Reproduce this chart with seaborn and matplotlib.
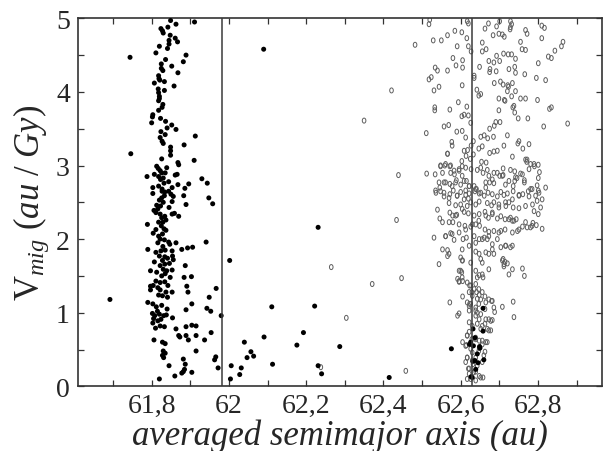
import numpy as np
import matplotlib
matplotlib.use("Agg")
import matplotlib.pyplot as plt
from matplotlib.path import Path
from matplotlib.ticker import MultipleLocator, FuncFormatter
import seaborn as sns

# Particles trapped near the inner resonance (filled) -- (a, V_mig)
filled_a = [
    61.849, 61.863, 61.911, 61.842, 61.824, 61.828, 61.830, 61.848, 61.861, 61.867,
    61.845, 61.845, 61.841, 61.820, 61.811, 61.744, 61.889, 61.882, 61.836, 61.825,
    61.825, 61.829, 61.852, 61.868, 61.818, 61.819, 61.821, 61.833, 61.807, 61.858,
    61.817, 61.818, 61.833, 61.820, 61.820, 61.818, 61.829, 61.827, 61.818, 61.803,
    61.802, 61.823, 61.836, 61.800, 61.852, 61.840, 61.863, 61.824, 61.835, 61.913,
    61.822, 61.827, 61.830, 61.884, 61.849, 61.849, 61.849, 61.746, 61.826, 61.910,
    61.868, 61.870, 61.813, 61.817, 61.822, 61.826, 61.839, 61.835, 61.830, 61.818,
    61.823, 61.807, 61.788, 61.861, 61.866, 61.930, 61.944, 61.896, 61.886, 61.868,
    61.803, 61.818, 61.827, 61.832, 61.844, 61.853,
    61.803, 61.827, 61.834, 61.844, 61.850, 61.833, 61.826, 61.856, 61.883, 61.820,
    61.830, 61.853, 61.813, 61.823, 61.845, 61.889, 61.806, 61.816, 61.811, 61.822,
    61.834, 61.853, 61.859, 61.870, 61.826, 61.837, 61.818, 61.829, 61.789, 61.825,
    61.832, 61.811, 61.837, 61.804, 61.818, 61.828, 61.822, 61.833, 61.816, 61.844,
    61.847, 61.863, 61.790, 61.829, 61.824, 61.835, 61.811, 61.853, 61.854, 61.878,
    61.893, 61.906, 61.820, 61.834, 61.841, 61.828, 61.856, 61.846, 61.834, 61.807,
    61.822, 61.830, 61.839, 61.887, 61.853, 61.797, 61.813, 61.835, 61.826, 61.848,
    61.884, 61.903, 61.811, 61.822, 61.834, 61.804, 61.842, 61.816, 61.797, 61.822,
    61.837, 61.853, 61.891, 61.894, 61.818, 61.828, 61.841,
    61.941, 61.948, 61.958, 61.967, 61.949, 61.943, 61.953, 61.904, 61.889, 61.797,
    61.692, 61.790, 61.803, 61.802, 61.808, 61.820, 61.831, 61.838, 61.805, 61.816,
    61.824, 61.803, 61.822, 61.833, 61.810, 61.854, 61.863, 61.870, 61.873, 61.889,
    61.904, 61.915, 61.889, 61.895, 61.915, 61.954, 61.937, 61.806, 61.828, 61.835,
    61.915, 61.830, 61.835, 61.828, 61.831, 61.966, 61.963, 61.882, 61.845, 61.972,
    61.887, 61.885, 61.882, 61.878, 61.904, 61.860, 61.820, 61.980, 61.812, 61.826,
    61.840, 61.815,
    62.002, 62.090, 62.006, 62.004, 62.032, 62.028, 62.040, 62.057, 62.047, 62.064,
    62.091, 62.113, 62.111, 62.176, 62.193, 62.222, 62.231, 62.231, 62.240, 62.287,
    62.415,
    62.576, 62.658, 62.632, 62.658, 62.623, 62.637, 62.633, 62.650, 62.643, 62.660,
    62.632, 62.645, 62.639, 62.627, 62.630, 62.626, 62.649, 62.637,
]
filled_v = [
    4.97, 4.92, 4.95, 4.88, 4.86, 4.83, 4.80, 4.77, 4.73, 4.68,
    4.70, 4.65, 4.59, 4.62, 4.53, 4.47, 4.50, 4.41, 4.44, 4.38,
    4.32, 4.29, 4.35, 4.26, 4.22, 4.18, 4.16, 4.14, 4.12, 4.08,
    4.04, 3.99, 4.02, 3.94, 3.91, 3.88, 3.83, 3.79, 3.75, 3.69,
    3.66, 3.64, 3.60, 3.58, 3.55, 3.51, 3.49, 3.46, 3.42, 3.40,
    3.38, 3.33, 3.30, 3.28, 3.25, 3.20, 3.14, 3.16, 3.09, 3.07,
    3.04, 3.01, 2.99, 2.96, 2.93, 2.90, 2.97, 2.90, 2.83, 2.85,
    2.81, 2.88, 2.85, 2.87, 2.88, 2.82, 2.76, 2.75, 2.69, 2.74,
    2.70, 2.72, 2.68, 2.76, 2.78, 2.70,
    2.62, 2.65, 2.64, 2.65, 2.61, 2.59, 2.56, 2.58, 2.59, 2.53,
    2.50, 2.51, 2.46, 2.45, 2.43, 2.47, 2.39, 2.41, 2.36, 2.34,
    2.31, 2.34, 2.35, 2.31, 2.29, 2.26, 2.23, 2.23, 2.20, 2.18,
    2.14, 2.13, 2.12, 2.08, 2.04, 2.07, 2.00, 1.99, 1.95, 1.96,
    1.93, 1.95, 1.86, 1.90, 1.84, 1.85, 1.82, 1.84, 1.77, 1.86,
    1.88, 1.89, 1.77, 1.76, 1.74, 1.71, 1.72, 1.67, 1.66, 1.69,
    1.64, 1.59, 1.57, 1.64, 1.58, 1.57, 1.55, 1.53, 1.50, 1.48,
    1.48, 1.49, 1.43, 1.41, 1.42, 1.37, 1.37, 1.34, 1.36, 1.31,
    1.28, 1.28, 1.36, 1.28, 1.24, 1.23, 1.21,
    1.96, 2.56, 2.48, 1.33, 1.21, 1.06, 1.02, 1.12, 1.04, 1.31,
    1.18, 1.14, 1.12, 0.99, 0.96, 0.98, 0.96, 0.97, 0.92, 0.89,
    0.91, 0.86, 0.82, 0.81, 0.79, 0.93, 0.78, 0.69, 0.67, 0.81,
    0.83, 0.82, 0.69, 0.63, 0.69, 0.73, 0.63, 0.63, 0.60, 0.58,
    0.48, 0.48, 0.45, 0.42, 0.39, 0.40, 0.36, 0.37, 0.28, 0.25,
    0.30, 0.23, 0.20, 0.18, 0.19, 0.14, 0.10, 0.96, 1.08, 1.10,
    1.05, 1.02,
    1.71, 4.58, 0.28, 0.10, 0.25, 0.16, 0.60, 0.47, 0.39, 0.41,
    0.67, 0.30, 1.08, 0.56, 0.73, 1.09, 2.16, 0.28, 0.17, 0.54,
    0.12,
    0.51, 1.06, 0.78, 0.75, 0.57, 0.66, 0.55, 0.52, 0.44, 0.36,
    0.34, 0.32, 0.23, 0.13, 0.12, 0.60, 0.54, 0.35,
]

# Particles around the outer resonance (open) -- (a, V_mig)
open_a = [
    62.520, 62.518, 62.617, 62.620, 62.603, 62.585, 62.566, 62.550, 62.529, 62.482,
    62.591, 62.616, 62.620, 62.627, 62.580, 62.588, 62.605, 62.605, 62.566, 62.534,
    62.540, 62.524, 62.518, 62.635, 62.635, 62.544, 62.531, 62.421, 62.604, 62.642,
    62.647, 62.652, 62.594, 62.616, 62.533, 62.533, 62.572, 62.603, 62.609, 62.620,
    62.626, 62.569, 62.557, 62.511, 62.590, 62.604, 62.613, 62.577, 62.578, 62.633,
    62.566, 62.627, 62.618, 62.609, 62.614, 62.633, 62.625, 62.603, 62.604, 62.548,
    62.559, 62.572, 62.613, 62.627, 62.643, 62.439, 62.512, 62.534, 62.574, 62.584,
    62.596, 62.652, 62.658, 62.669, 62.557, 62.589, 62.572, 62.600, 62.544, 62.546,
    62.535, 62.615, 62.622, 62.635, 62.641,
    62.672, 62.693, 62.701, 62.729, 62.732, 62.729, 62.728, 62.663, 62.684, 62.699,
    62.708, 62.713, 62.768, 62.772, 62.810, 62.817, 62.810, 62.755, 62.759, 62.768,
    62.656, 62.656, 62.666, 62.693, 62.711, 62.723, 62.732, 62.742, 62.673, 62.686,
    62.701, 62.649, 62.676, 62.675, 62.692, 62.725, 62.740, 62.742, 62.766, 62.796,
    62.820, 62.827, 62.835, 62.844, 62.861, 62.801, 62.687, 62.703, 62.710, 62.722,
    62.724, 62.721, 62.734, 62.742, 62.755, 62.768, 62.699, 62.713, 62.715, 62.732,
    62.738, 62.735, 62.699, 62.830, 62.835, 62.799, 62.749, 62.774, 62.740, 62.691,
    62.702, 62.675, 62.687, 62.721, 62.815, 62.877, 62.652, 62.661, 62.670, 62.685,
    62.751, 62.748, 62.761, 62.777, 62.712, 62.656, 62.647, 62.686, 62.675, 62.695,
    62.734, 62.654, 62.666, 62.768, 62.771, 62.781, 62.791, 62.801, 62.710, 62.729,
    62.740, 62.755, 62.804, 62.686, 62.701, 62.710, 62.740, 62.746, 62.765, 62.765,
    62.801, 62.675, 62.686, 62.665, 62.716, 62.736, 62.781, 62.775, 62.798, 62.801,
    62.820, 62.865,
    62.350, 62.371, 62.304, 62.265, 62.238, 62.458, 62.434, 62.447,
    62.536, 62.548, 62.557, 62.572, 62.581, 62.591, 62.600, 62.613, 62.622, 62.609,
    62.620, 62.637, 62.648, 62.661, 62.671, 62.682, 62.695, 62.704, 62.712, 62.721,
    62.736, 62.751, 62.761, 62.777, 62.794, 62.798, 62.811, 62.803, 62.570, 62.587,
    62.600, 62.626, 62.639, 62.648, 62.669, 62.680, 62.686, 62.699, 62.717, 62.725,
    62.736, 62.751, 62.768, 62.786, 62.790, 62.801, 62.807, 62.540, 62.546, 62.572,
    62.579, 62.590, 62.609, 62.620, 62.635, 62.648, 62.663, 62.672, 62.682, 62.695,
    62.704, 62.715, 62.729, 62.734, 62.744, 62.768, 62.787, 62.796, 62.811, 62.781,
    62.760, 62.747, 62.553, 62.580, 62.596, 62.611, 62.626, 62.639, 62.649, 62.663,
    62.673, 62.686, 62.704, 62.715, 62.734, 62.531, 62.561, 62.574, 62.583, 62.606,
    62.615, 62.635, 62.648, 62.661, 62.669, 62.682, 62.695, 62.704, 62.717, 62.734,
    62.566, 62.570, 62.544, 62.600, 62.605, 62.626, 62.639, 62.648, 62.652, 62.665,
    62.673, 62.686, 62.673, 62.639, 62.648, 62.656, 62.643, 62.658, 62.596, 62.603,
    62.592, 62.596, 62.605, 62.710, 62.715, 62.721, 62.712, 62.734, 62.760, 62.765,
    62.725, 62.623, 62.635, 62.629, 62.641, 62.648, 62.663, 62.673, 62.680, 62.652,
    62.605, 62.572, 62.623, 62.622, 62.639, 62.643, 62.663, 62.686, 62.688, 62.708,
    62.736, 62.738, 62.596, 62.592, 62.639, 62.648, 62.663, 62.656, 62.673, 62.682,
    62.669, 62.678, 62.622, 62.617, 62.629, 62.639, 62.615, 62.605, 62.648, 62.656,
    62.665, 62.648, 62.663, 62.630, 62.639, 62.617, 62.613, 62.632, 62.656, 62.620,
    62.639, 62.622, 62.648, 62.617, 62.639, 62.658,
    62.566, 62.548, 62.561, 62.574, 62.553, 62.583, 62.596, 62.604, 62.609, 62.587,
    62.578, 62.561, 62.557, 62.570, 62.591, 62.613, 62.622, 62.639, 62.652, 62.665,
    62.673, 62.682, 62.695, 62.708, 62.725, 62.742, 62.760, 62.777, 62.790, 62.772,
    62.785, 62.751, 62.734, 62.716, 62.699, 62.682, 62.665, 62.647, 62.630, 62.613,
    62.596, 62.578, 62.561, 62.570, 62.587, 62.604, 62.617, 62.725, 62.738, 62.751,
    62.772, 62.785, 62.699, 62.673, 62.656, 62.639, 62.622, 62.604, 62.682, 62.716,
    62.729, 62.708, 62.712, 62.604, 62.656, 62.566, 62.553,
    62.600, 62.604, 62.596, 62.617, 62.626, 62.639, 62.647, 62.656, 62.622, 62.630,
    62.643, 62.617, 62.626, 62.647, 62.665, 62.682, 62.622, 62.639, 62.652, 62.665,
    62.678, 62.622, 62.630, 62.643, 62.652, 62.673, 62.617, 62.639, 62.656, 62.669,
    62.613, 62.626, 62.647, 62.660, 62.617, 62.630, 62.643, 62.622, 62.634, 62.652,
    62.626,
]
open_v = [
    4.98, 4.92, 4.96, 4.93, 4.81, 4.83, 4.77, 4.70, 4.70, 4.64,
    4.62, 4.73, 4.62, 4.55, 4.46, 4.36, 4.43, 4.33, 4.29, 4.33,
    4.29, 4.20, 4.17, 4.22, 4.19, 4.07, 4.02, 4.02, 4.09, 4.03,
    3.95, 3.97, 3.86, 3.80, 3.79, 3.75, 3.76, 3.67, 3.69, 3.68,
    3.58, 3.55, 3.53, 3.44, 3.46, 3.47, 3.38, 3.32, 3.27, 3.33,
    3.16, 3.27, 3.21, 3.20, 3.13, 3.15, 3.09, 3.06, 2.99, 3.00,
    3.00, 2.99, 2.97, 2.95, 2.94, 2.87, 2.89, 2.88, 2.90, 2.88,
    2.93, 2.97, 2.90, 2.94, 2.77, 2.80, 2.75, 2.74, 2.77, 2.70,
    2.66, 2.79, 2.72, 2.72, 2.68,
    4.93, 4.89, 4.96, 4.96, 4.92, 4.88, 4.85, 4.86, 4.77, 4.79,
    4.78, 4.75, 4.84, 4.79, 4.90, 4.87, 4.73, 4.68, 4.58, 4.57,
    4.67, 4.55, 4.58, 4.49, 4.52, 4.51, 4.51, 4.45, 4.42, 4.40,
    4.42, 4.34, 4.31, 4.27, 4.28, 4.31, 4.34, 4.26, 4.24, 4.19,
    4.16, 4.48, 4.46, 4.56, 4.62, 4.39, 4.12, 4.14, 4.10, 4.09,
    4.07, 4.01, 4.12, 4.01, 3.91, 3.91, 3.91, 3.89, 3.88, 3.94,
    3.81, 3.79, 3.75, 3.77, 3.79, 3.89, 3.64, 3.64, 3.72, 3.59,
    3.59, 3.50, 3.54, 3.41, 3.53, 3.57, 3.39, 3.41, 3.37, 3.39,
    3.33, 3.30, 3.23, 3.29, 3.27, 3.26, 3.23, 3.19, 3.17, 3.20,
    3.12, 3.05, 3.04, 3.08, 3.05, 3.02, 2.99, 3.01, 2.96, 2.94,
    2.92, 2.89, 2.91, 2.90, 2.86, 2.87, 2.79, 2.83, 2.80, 2.77,
    2.83, 2.77, 2.76, 2.70, 2.74, 2.72, 2.68, 2.65, 2.73, 2.66,
    2.70, 4.68,
    3.61, 1.39, 0.93, 1.62, 0.26, 0.21, 2.26, 1.47,
    2.63, 2.65, 2.58, 2.61, 2.66, 2.59, 2.64, 2.60, 2.62, 2.54,
    2.55, 2.65, 2.62, 2.59, 2.63, 2.61, 2.58, 2.64, 2.60, 2.62,
    2.65, 2.60, 2.61, 2.58, 2.59, 2.52, 2.54, 2.63, 2.49, 2.46,
    2.47, 2.50, 2.47, 2.51, 2.49, 2.46, 2.50, 2.47, 2.45, 2.50,
    2.43, 2.42, 2.45, 2.47, 2.38, 2.34, 2.43, 2.40, 2.28, 2.36,
    2.32, 2.33, 2.37, 2.35, 2.32, 2.34, 2.37, 2.29, 2.34, 2.28,
    2.31, 2.27, 2.29, 2.25, 2.27, 2.23, 2.22, 2.19, 2.14, 2.16,
    2.17, 2.11, 2.23, 2.23, 2.20, 2.18, 2.17, 2.20, 2.18, 2.13,
    2.10, 2.11, 2.11, 2.13, 2.09, 2.02, 2.04, 2.08, 1.99, 2.00,
    2.02, 2.04, 2.00, 2.02, 2.00, 1.93, 2.00, 1.89, 1.91, 1.91,
    1.85, 1.80, 1.66, 1.75, 1.71, 1.68, 1.83, 1.80, 1.73, 1.82,
    1.80, 1.80, 1.59, 1.57, 1.51, 1.52, 1.48, 1.48, 1.57, 1.55,
    1.46, 1.42, 1.43, 1.73, 1.69, 1.67, 1.63, 1.59, 1.60, 1.50,
    1.52, 1.37, 1.32, 1.28, 1.28, 1.24, 1.22, 1.18, 1.16, 1.18,
    1.22, 1.14, 1.12, 1.09, 1.07, 1.00, 1.05, 1.07, 1.01, 1.08,
    1.15, 0.94, 0.99, 0.96, 0.96, 0.91, 0.85, 0.82, 0.91, 0.90,
    0.78, 0.76, 0.74, 0.69, 0.64, 0.66, 0.56, 0.60, 0.62, 0.57,
    0.60, 0.52, 0.47, 0.46, 0.39, 0.39, 0.33, 0.30, 0.33, 0.24,
    0.20, 0.17, 0.14, 0.10, 0.08, 0.12,
    3.16, 2.99, 3.02, 3.00, 2.90, 2.93, 2.95, 2.86, 2.79, 2.77,
    2.72, 2.77, 2.63, 2.56, 2.59, 2.66, 2.72, 2.68, 2.63, 2.77,
    2.86, 2.81, 2.90, 2.86, 2.79, 2.84, 2.88, 2.95, 3.02, 3.08,
    2.68, 2.59, 2.54, 2.50, 2.43, 2.36, 2.32, 2.25, 2.20, 2.13,
    2.09, 2.07, 2.04, 2.23, 2.32, 2.41, 2.45, 2.27, 2.25, 2.13,
    2.16, 2.18, 2.09, 2.04, 2.00, 1.95, 1.91, 1.86, 1.86, 1.91,
    1.89, 1.71, 1.66, 1.71, 1.68, 1.77, 1.86,
    1.57, 1.48, 1.43, 1.41, 1.37, 1.39, 1.32, 1.28, 1.28, 1.23,
    1.19, 1.14, 1.12, 1.12, 1.14, 1.16, 1.03, 1.03, 0.98, 0.91,
    0.89, 0.87, 0.82, 0.85, 0.78, 0.76, 0.69, 0.64, 0.62, 0.60,
    0.55, 0.51, 0.48, 0.42, 0.39, 0.35, 0.28, 0.24, 0.19, 0.12,
    0.10,
]

# Resonance centres
resonance_a = [61.983, 62.63]

XLIM = (61.61, 62.967)
YLIM = (0, 5)

sns.set_style("ticks")
plt.rcParams["font.family"] = ["Liberation Serif", "DejaVu Serif"]
plt.rcParams["mathtext.fontset"] = "custom"
plt.rcParams["mathtext.rm"] = "Liberation Serif"
plt.rcParams["mathtext.it"] = "Liberation Serif:italic"

fig = plt.figure(figsize=(6.03, 4.52), dpi=100)
ax = fig.add_axes([0.1298, 0.1431, 0.8692, 0.8142])

# slightly tall open ellipse marker
t = np.linspace(0, 2 * np.pi, 41)
ellipse = Path(np.column_stack([0.72 * np.cos(t), np.sin(t)]), closed=True)

sns.scatterplot(x=open_a, y=open_v, ax=ax, marker=ellipse, s=13,
                facecolors="none", edgecolors="#5e5e5e", linewidths=0.7,
                zorder=2)
sns.scatterplot(x=filled_a, y=filled_v, ax=ax, marker="o", s=13,
                color="black", edgecolor="none", linewidth=0, zorder=3)

for a in resonance_a:
    ax.axvline(a, color="#3a3a3a", lw=1.1, zorder=4)

ax.set_xlim(*XLIM)
ax.set_ylim(*YLIM)

ax.xaxis.set_major_locator(MultipleLocator(0.2))
ax.xaxis.set_minor_locator(MultipleLocator(0.1))
ax.yaxis.set_major_locator(MultipleLocator(1))
ax.yaxis.set_minor_locator(MultipleLocator(0.5))


def comma_fmt(v, pos):
    return f"{round(v, 1):g}".replace(".", ",")


ax.xaxis.set_major_formatter(FuncFormatter(comma_fmt))
ax.yaxis.set_major_formatter(FuncFormatter(comma_fmt))

for which in ("major", "minor"):
    ax.tick_params(axis="both", which=which, direction="in", length=4,
                   width=0.9, color="#333333", top=True, right=True)
ax.tick_params(axis="x", which="major", labelsize=20, pad=5)
ax.tick_params(axis="y", which="major", labelsize=20, pad=6)

for sp in ax.spines.values():
    sp.set_color("#333333")
    sp.set_linewidth(1.2)

ax.set_xlabel("averaged semimajor axis (au)", fontsize=25, style="italic",
              labelpad=0)
ax.set_ylabel(r"$\mathrm{V}_{mig}\ (au\ /\ Gy)$", fontsize=25, labelpad=4)

fig.savefig("out.png", dpi=100)
